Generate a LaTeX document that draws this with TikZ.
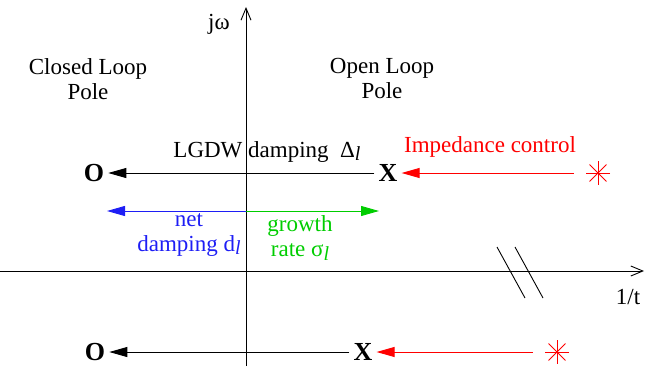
\documentclass[tikz,border=0pt]{standalone}
\usepackage{fontspec}
\setmainfont{Liberation Serif}
\usetikzlibrary{arrows.meta}
\definecolor{ctrlred}{RGB}{255,0,0}
\definecolor{netblue}{RGB}{30,30,245}
\definecolor{growgreen}{RGB}{0,205,0}
\newcommand{\subl}{{\fontsize{20}{20}\selectfont\raisebox{-0.35ex}{\itshape l}}}
\tikzset{
  txt/.style={font=\fontsize{23}{25}\selectfont, inner sep=0pt, align=center},
  pole/.style={font=\fontsize{26}{26}\selectfont\bfseries, inner sep=4pt},
  fillhead/.style={-{Triangle[length=18pt,width=10pt]}, line width=0.9pt},
  axis/.style={-{Straight Barb[length=12pt,width=10pt]}, line width=0.9pt},
  starmark/.style={circle, minimum size=26pt, inner sep=0pt,
    path picture={\foreach \a in {0,45,90,135}
      \draw[ctrlred, line width=0.9pt] (path picture bounding box.center) ++(\a:12pt) -- ++(\a+180:24pt);}}
}

\begin{document}
\begin{tikzpicture}[x=1pt, y=-1pt]
  \useasboundingbox (0,0) rectangle (648,367);
  % axes
  \coordinate (ybot) at (246,366);
  \coordinate (ytop) at (246,7);
  \coordinate (xl) at (0,271);
  \coordinate (xr) at (644,271);
  \draw[axis] (ybot) -- (ytop);
  \draw[axis] (xl) -- (xr);
  \draw[line width=0.9pt] (497,247) -- (525,298);
  \draw[line width=0.9pt] (515,247) -- (543,298);
  \node[txt] (jw) at (219,24) {jω};
  \node[txt] (inv) at (628,297) {1/t};
  % labels
  \node[txt] (cl) at (88,79) {Closed Loop\\Pole};
  \node[txt] (ol) at (382,78) {Open Loop\\Pole};
  \node[txt] (lgdw) at (267,152) {LGDW damping~~Δ\subl};
  \node[txt, ctrlred] (imp) at (490,147) {Impedance control};
  % poles
  \foreach \i/\y/\xo/\xx/\xs in {1/173/94/388/598, 2/352/95/363/557} {
    \node[pole] (o\i) at (\xo,\y) {O};
    \node[pole] (x\i) at (\xx,\y) {X};
    \node[starmark] (s\i) at (\xs,\y) {};
    \draw[fillhead] (x\i) -- (o\i);
    \draw[fillhead, ctrlred, shorten <=11pt] (s\i) -- (x\i);
  }
  % net damping vs growth rate
  \coordinate (mid) at (246,211);
  \coordinate (netend) at (107,211);
  \coordinate (growend) at (379,211);
  \draw[fillhead, netblue] (mid) -- (netend);
  \draw[fillhead, growgreen] (mid) -- (growend);
  \node[txt, netblue] (net) at (189,235) {net\\damping d\subl};
  \node[txt, growgreen] (grow) at (300,238) {growth\\rate σ\subl};
\end{tikzpicture}
\end{document}
